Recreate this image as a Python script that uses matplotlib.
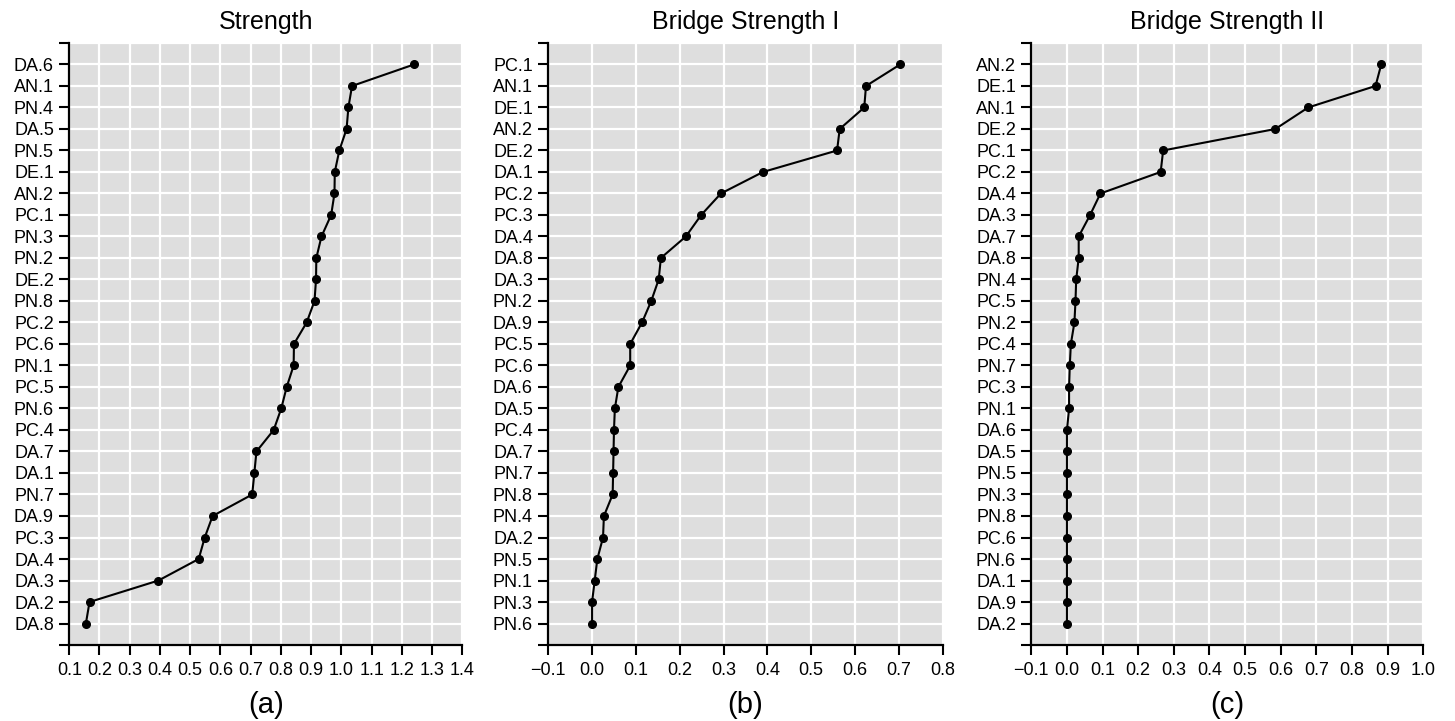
import matplotlib
matplotlib.use("Agg")
import numpy as np
import matplotlib.pyplot as plt

plt.rcParams['font.family'] = ['Liberation Sans', 'DejaVu Sans']

# panel (a) Strength, top to bottom
strength_labels = ["DA.6", "AN.1", "PN.4", "DA.5", "PN.5", "DE.1", "AN.2", "PC.1", "PN.3",
                   "PN.2", "DE.2", "PN.8", "PC.2", "PC.6", "PN.1", "PC.5", "PN.6", "PC.4",
                   "DA.7", "DA.1", "PN.7", "DA.9", "PC.3", "DA.4", "DA.3", "DA.2", "DA.8"]
strength_values = [1.240, 1.035, 1.023, 1.017, 0.993, 0.978, 0.977, 0.966, 0.934,
                   0.917, 0.916, 0.911, 0.885, 0.843, 0.842, 0.819, 0.801, 0.776,
                   0.719, 0.712, 0.705, 0.574, 0.548, 0.528, 0.395, 0.167, 0.155]

# panel (b) Bridge Strength I
bridge1_labels = ["PC.1", "AN.1", "DE.1", "AN.2", "DE.2", "DA.1", "PC.2", "PC.3", "DA.4",
                  "DA.8", "DA.3", "PN.2", "DA.9", "PC.5", "PC.6", "DA.6", "DA.5", "PC.4",
                  "DA.7", "PN.7", "PN.8", "PN.4", "DA.2", "PN.5", "PN.1", "PN.3", "PN.6"]
bridge1_values = [0.703, 0.625, 0.621, 0.565, 0.559, 0.390, 0.294, 0.249, 0.214,
                  0.157, 0.152, 0.135, 0.114, 0.087, 0.087, 0.060, 0.052, 0.050,
                  0.049, 0.048, 0.047, 0.027, 0.025, 0.012, 0.006, 0.000, 0.000]

# panel (c) Bridge Strength II
bridge2_labels = ["AN.2", "DE.1", "AN.1", "DE.2", "PC.1", "PC.2", "DA.4", "DA.3", "DA.7",
                  "DA.8", "PN.4", "PC.5", "PN.2", "PC.4", "PN.7", "PC.3", "PN.1", "DA.6",
                  "DA.5", "PN.5", "PN.3", "PN.8", "PC.6", "PN.6", "DA.1", "DA.9", "DA.2"]
bridge2_values = [0.882, 0.866, 0.677, 0.585, 0.270, 0.263, 0.094, 0.065, 0.033,
                  0.033, 0.026, 0.024, 0.021, 0.011, 0.008, 0.006, 0.006, 0.000,
                  0.000, 0.000, 0.000, 0.000, 0.000, 0.000, 0.000, 0.000, 0.000]

titles = ["Strength", "Bridge Strength I", "Bridge Strength II"]
panel_tags = ["(a)", "(b)", "(c)"]
x_ranges = [(0.1, 1.4), (-0.1, 0.8), (-0.1, 1.0)]


def draw_panel(ax, labels, values, title, tag, xr):
    n = len(labels)
    ypos = np.arange(n, 0, -1)
    ax.set_facecolor('#dedede')
    ax.plot(values, ypos, color='black', lw=1.5, marker='o', ms=5.5, zorder=3)

    # x ticks every 0.1
    xt = np.round(np.arange(xr[0], xr[1] + 0.001, 0.1), 1)
    ax.set_xticks(xt)
    ax.set_xticklabels([f"{v:.1f}".replace("-", "\u2212") for v in xt])
    ax.set_xlim(xr)

    # y ticks at each node plus the ends of the axis
    ax.set_yticks(np.arange(0, n + 2))
    ax.set_yticklabels([""] + labels[::-1] + [""])
    ax.set_ylim(0, n + 1)

    ax.grid(True, color='white', lw=1.6)
    ax.set_axisbelow(True)
    for s in ['top', 'right']:
        ax.spines[s].set_visible(False)
    for s in ['left', 'bottom']:
        ax.spines[s].set_linewidth(1.6)
    ax.tick_params(axis='both', direction='out', length=7, width=1.5,
                   labelsize=13, colors='black')
    ax.tick_params(axis='x', pad=5)
    ax.tick_params(axis='y', pad=4)

    ax.text(0.5, 1.035, title, transform=ax.transAxes, ha='center', va='center',
            fontsize=18)
    ax.text(0.5, -0.10, tag, transform=ax.transAxes, ha='center', va='center',
            fontsize=21)


def main():
    fig = plt.figure(figsize=(14.55, 7.21), dpi=100)
    lefts = [0.0476, 0.3768, 0.7088]
    widths = [0.2702, 0.2711, 0.2694]
    data = [(strength_labels, strength_values),
            (bridge1_labels, bridge1_values),
            (bridge2_labels, bridge2_values)]
    for i in range(3):
        ax = fig.add_axes([lefts[i], 0.1054, widths[i], 0.835])
        draw_panel(ax, data[i][0], data[i][1], titles[i], panel_tags[i], x_ranges[i])
    fig.savefig("out.png", dpi=100)


if __name__ == "__main__":
    main()
